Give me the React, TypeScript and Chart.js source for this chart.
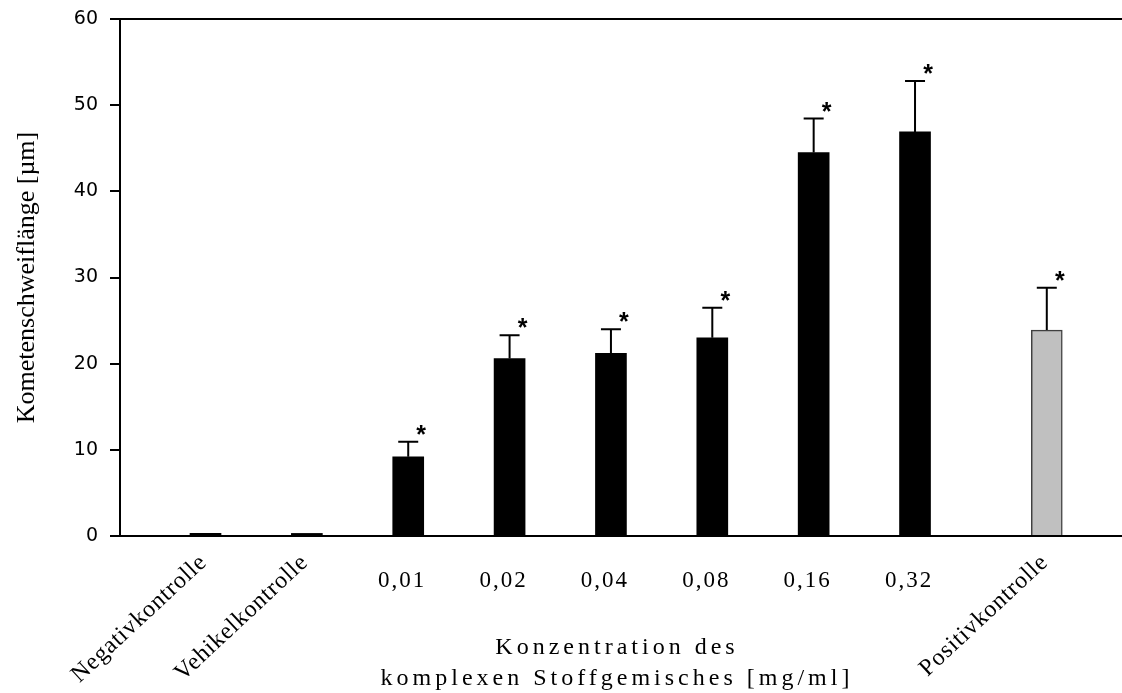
import React, { useEffect, useRef } from "react";
import { Chart, registerables } from "chart.js";

Chart.register(...registerables);

// Comet assay: tail length per treatment group
const categories = [
  "Negativkontrolle",
  "Vehikelkontrolle",
  "0,01",
  "0,02",
  "0,04",
  "0,08",
  "0,16",
  "0,32",
  "Positivkontrolle",
];
const meanTailLength = [0.3, 0.3, 9.2, 20.6, 21.2, 23.0, 44.5, 46.9, 23.9];
const stdDeviation = [0, 0, 1.75, 2.7, 2.8, 3.5, 3.95, 5.9, 4.9];
const significant = [false, false, true, true, true, true, true, true, true];
const rotatedLabel = [true, true, false, false, false, false, false, false, true];
const barFill = ["#000000", "#000000", "#000000", "#000000", "#000000", "#000000", "#000000", "#000000", "#c0c0c0"];
const barEdge = ["#000000", "#000000", "#000000", "#000000", "#000000", "#000000", "#000000", "#000000", "#404040"];

const yMin = 0;
const yMax = 60;
const yStep = 10;
const yTitle = "Kometenschweiflänge [µm]";
const xTitleLines = ["Konzentration des", "komplexen Stoffgemisches [mg/ml]"];

// the positive control sits a little apart from the dose series
const positiveGap = 0.3;
const slot = categories.map((_, i) => (i === categories.length - 1 ? i + positiveGap : i));

const SERIF = "'Liberation Serif', 'Times New Roman', serif";
const SANS = "'Liberation Sans', Arial, sans-serif";

const annotations = {
  id: "annotations",
  afterDatasetsDraw(chart: any) {
    const { ctx, chartArea } = chart;
    const x = chart.scales.x;
    const y = chart.scales.y;
    ctx.save();
    ctx.strokeStyle = "#000";
    ctx.lineWidth = 2;
    // upper frame line
    const top = y.getPixelForValue(yMax);
    ctx.beginPath();
    ctx.moveTo(chartArea.left, top);
    ctx.lineTo(chartArea.right, top);
    ctx.stroke();

    // error bars (upper whisker) and significance markers
    meanTailLength.forEach((m, i) => {
      const px = x.getPixelForValue(slot[i]);
      const yBar = y.getPixelForValue(m);
      const yErr = y.getPixelForValue(m + stdDeviation[i]);
      if (stdDeviation[i] > 0) {
        ctx.lineWidth = 2;
        ctx.beginPath();
        ctx.moveTo(px, yBar);
        ctx.lineTo(px, yErr);
        ctx.moveTo(px - 10, yErr);
        ctx.lineTo(px + 10, yErr);
        ctx.stroke();
      }
      if (significant[i]) {
        ctx.fillStyle = "#000";
        ctx.font = `bold 25px ${SANS}`;
        ctx.textAlign = "center";
        ctx.textBaseline = "alphabetic";
        ctx.fillText("*", px + 13, yErr + 1);
      }
    });
    ctx.restore();
  },
  afterDraw(chart: any) {
    const { ctx, chartArea } = chart;
    const x = chart.scales.x;
    ctx.save();
    ctx.fillStyle = "#000";

    // category labels
    categories.forEach((label, i) => {
      const px = x.getPixelForValue(slot[i]);
      if (rotatedLabel[i]) {
        ctx.save();
        ctx.font = `24px ${SERIF}`;
        ctx.letterSpacing = "0.8px";
        ctx.translate(px - 2, x.top + 23);
        ctx.rotate((-43 * Math.PI) / 180);
        ctx.textAlign = "right";
        ctx.textBaseline = "middle";
        ctx.fillText(label, 0, 0);
        ctx.restore();
      } else {
        ctx.save();
        ctx.font = `23px ${SERIF}`;
        ctx.letterSpacing = "2px";
        ctx.textAlign = "center";
        ctx.textBaseline = "alphabetic";
        ctx.fillText(label, px - 6, x.top + 51);
        ctx.restore();
      }
    });

    // axis title below the category labels
    ctx.font = `24px ${SERIF}`;
    ctx.letterSpacing = "4px";
    ctx.textAlign = "center";
    ctx.textBaseline = "alphabetic";
    const cx = (chartArea.left + chartArea.right) / 2 - 4;
    ctx.fillText(xTitleLines[0], cx, x.top + 118);
    ctx.fillText(xTitleLines[1], cx, x.top + 149);
    ctx.restore();
  },
};

export default function App() {
  const canvasRef = useRef<HTMLCanvasElement | null>(null);

  useEffect(() => {
    const canvas = canvasRef.current;
    if (!canvas) return;
    const chart = new Chart(canvas, {
      type: "bar",
      data: {
        datasets: [
          {
            data: meanTailLength.map((v, i) => ({ x: slot[i], y: v })),
            backgroundColor: barFill,
            borderColor: barEdge,
            borderWidth: [0, 0, 0, 0, 0, 0, 0, 0, 1.5],
            barThickness: 31,
          },
        ],
      },
      options: {
        animation: false,
        responsive: false,
        devicePixelRatio: 1,
        layout: { padding: { top: 19, left: 0, right: 0, bottom: 0 } },
        plugins: {
          legend: { display: false },
          tooltip: { enabled: false },
        },
        scales: {
          x: {
            type: "linear",
            offset: false,
            min: -0.8436,
            max: 9.042,
            ticks: { display: false },
            grid: { display: false },
            border: { display: true, color: "#000", width: 2 },
            afterFit: (s: any) => {
              s.height = 157;
            },
          },
          y: {
            min: yMin,
            max: yMax,
            ticks: {
              stepSize: yStep,
              color: "#000",
              padding: 12,
              font: { family: "'DejaVu Sans', sans-serif", size: 19 },
            },
            grid: {
              drawOnChartArea: false,
              drawTicks: true,
              tickLength: 10,
              color: "#000",
              lineWidth: 2,
            },
            border: { display: true, color: "#000", width: 2 },
            title: {
              display: true,
              text: yTitle,
              color: "#000",
              font: { family: SERIF, size: 26 },
              padding: { top: 12, bottom: 0 },
            },
            afterFit: (s: any) => {
              s.width = 120;
              s.paddingTop = 0;
              s.paddingBottom = 0;
            },
          },
        },
      },
      plugins: [annotations],
    });
    return () => chart.destroy();
  }, []);

  return (
    <div style={{ position: "fixed", left: 0, top: 0, width: 1122, height: 693, background: "#fff" }}>
      <canvas ref={canvasRef} width={1122} height={693} style={{ width: 1122, height: 693 }} />
    </div>
  );
}
